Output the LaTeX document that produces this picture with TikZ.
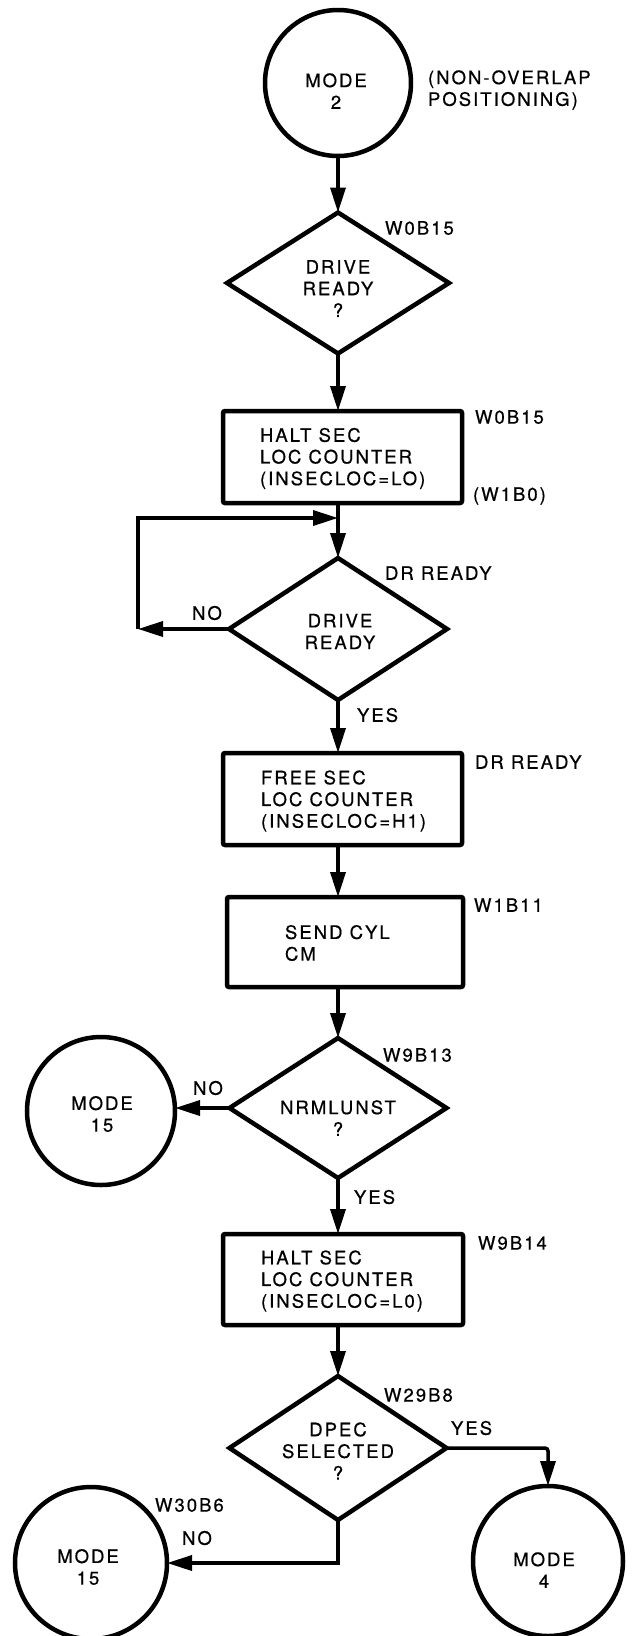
\documentclass[tikz,border=0pt]{standalone}
\usepackage{fontspec}
\setmainfont{TeX Gyre Heros}[LetterSpace=11,FakeBold=0.6]
\usetikzlibrary{shapes.geometric,arrows.meta}
\begin{document}
\begin{tikzpicture}[x=1pt,y=-1pt,
  every node/.style={font=\fontsize{18.5}{21.7}\selectfont, inner sep=0pt, outer sep=0pt},
  proc/.style={draw, line width=4.5pt, rectangle, rounded corners=2pt},
  dec/.style={draw, line width=4.5pt, diamond},
  term/.style={draw, line width=4.5pt, circle},
  txt/.style={align=center},
  note/.style={anchor=west, align=left},
  arr/.style={line width=3.5pt, -{Triangle[length=25pt,width=15pt]}}]
\useasboundingbox (0,0) rectangle (636,1636);

% entry: mode 2
\node[term, minimum size=146pt] (c2) at (338,83) {};
\node[txt] (c2t) at (336,91) {MODE\\2};
\node[note] (c2n) at (428,90) {(NON-OVERLAP\\POSITIONING)};

% drive ready test
\node[dec, minimum width=222pt, minimum height=141pt] (q1) at (338,283) {};
\node[txt] (q1t) at (338,288.5) {DRIVE\\READY\\?};
\node[note] (q1a) at (385,228) {W0B15};

% halt sector location counter
\node[proc, minimum width=239pt, minimum height=92pt] (b1) at (342.5,457) {};
\node[note] (b1t) at (260,458.5) {HALT SEC\\LOC COUNTER\\(INSECLOC=LO)};
\node[note] (b1a) at (475,417) {W0B15};
\node[note] (b1b) at (473,496) {(W1B0)};

% wait for drive ready
\node[dec, minimum width=218pt, minimum height=142pt] (q2) at (338,629) {};
\node[txt] (q2t) at (340,631.5) {DRIVE\\READY};
\node[note] (q2a) at (385,573) {DR READY};
\node[txt] (q2no) at (207,613) {NO};
\node[note] (q2yes) at (357,715) {YES};

% free sector location counter
\node[proc, minimum width=239pt, minimum height=92pt] (b2) at (342.5,799) {};
\node[note] (b2t) at (261,801) {FREE SEC\\LOC COUNTER\\(INSECLOC=H1)};
\node[note] (b2a) at (475,762) {DR READY};

% send cylinder command
\node[proc, minimum width=236pt, minimum height=90pt] (b3) at (345,942) {};
\node[note] (b3t) at (285,943) {SEND CYL\\CM};
\node[note] (b3a) at (474,905) {W1B11};

% normal unit status test
\node[dec, minimum width=217pt, minimum height=140pt] (q3) at (338,1108) {};
\node[txt] (q3t) at (338,1118) {NRMLUNST\\?};
\node[note] (q3a) at (383,1055) {W9B13};
\node[txt] (q3no) at (208,1088) {NO};
\node[note] (q3yes) at (354,1197) {YES};
\node[term, minimum size=148pt] (c15a) at (101,1111) {};
\node[txt] (c15at) at (102,1114) {MODE\\15};

% halt sector location counter again
\node[proc, minimum width=240pt, minimum height=91pt] (b4) at (343,1279.5) {};
\node[note] (b4t) at (261,1281) {HALT SEC\\LOC COUNTER\\(INSECLOC=L0)};
\node[note] (b4a) at (478,1243) {W9B14};

% dual port selection test
\node[dec, minimum width=217pt, minimum height=144pt] (q4) at (338,1448) {};
\node[txt] (q4t) at (338,1451) {DPEC\\SELECTED\\?};
\node[note] (q4a) at (384,1395) {W29B8};
\node[note] (q4yes) at (451,1428) {YES};
\node[note] (q4b) at (155,1505) {W30B6};
\node[txt] (q4no) at (197,1538) {NO};
\node[term, minimum size=150pt] (c4) at (548,1561) {};
\node[txt] (c4t) at (544,1570) {MODE\\4};
\node[term, minimum size=152pt] (c15b) at (91,1563) {};
\node[txt] (c15bt) at (88,1567) {MODE\\15};

% flow lines
\coordinate (lp1) at (138,629);
\coordinate (lp2) at (338,518);
\draw[arr] (c2.south) -- (q1.north);
\draw[arr] (q1.south) -- (q1.south |- b1.north);
\draw[arr] (q2.north |- b1.south) -- (q2.north);
\draw[arr] (q2.west) -- (lp1);
\draw[arr] (lp1) |- (lp2);
\draw[arr] (q2.south) -- (q2.south |- b2.north);
\draw[arr] (q2.south |- b2.south) -- (q2.south |- b3.north);
\draw[arr] (q3.north |- b3.south) -- (q3.north);
\draw[arr] (q3.west) -- (q3.west -| c15a.east);
\draw[arr] (q3.south) -- (q3.south |- b4.north);
\draw[arr] (q4.north |- b4.south) -- (q4.north);
\draw[arr, rounded corners=3pt] (q4.east) -| (c4.north);
\draw[arr] (q4.south) |- (c15b.east);
\end{tikzpicture}
\end{document}
